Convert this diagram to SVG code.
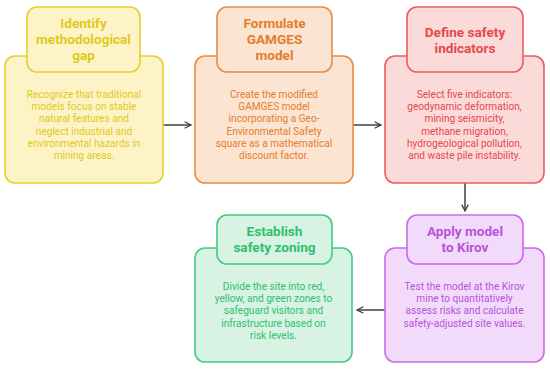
<svg xmlns="http://www.w3.org/2000/svg" width="550" height="369" viewBox="0 0 550 369">
<defs>
<style>
text{font-family:Roboto,"Liberation Sans",sans-serif;text-anchor:middle}
.t{font-size:13.6px;font-weight:bold}
.b{font-size:10.1px}
rect{stroke-width:1.6}
.y rect{fill:#fcf4c6;stroke:#e8cf2c}.y text{fill:#e3c81c}
.o rect{fill:#fbe4d2;stroke:#e98c42}.o text{fill:#e57d2e}
.r rect{fill:#fbdada;stroke:#e95e5e}.r text{fill:#e54a4a}
.g rect{fill:#d8f3e4;stroke:#40cc80}.g text{fill:#2fc06e}
.p rect{fill:#f2dbfa;stroke:#cc6ae8}.p text{fill:#b852da}
.c line{stroke:#404040;stroke-width:1.5}
</style>
<marker id="ah" viewBox="0 0 10 10" refX="9" refY="5" markerWidth="8" markerHeight="8" markerUnits="userSpaceOnUse" orient="auto"><path d="M1,1 L9,5 L1,9" fill="none" stroke="#404040" stroke-width="1.6"/></marker>
</defs>
<rect width="550" height="369" fill="#fff"/>
<g class="c">
<line x1="163" y1="125" x2="191" y2="125" marker-end="url(#ah)"/>
<line x1="353" y1="125" x2="381" y2="125" marker-end="url(#ah)"/>
<line x1="465" y1="183" x2="465" y2="211" marker-end="url(#ah)"/>
<line x1="385" y1="310" x2="357" y2="310" marker-end="url(#ah)"/>
</g>
<g id="n1" class="y">
<rect x="5" y="56" width="158" height="127" rx="10"/>
<rect x="27" y="7" width="113" height="65" rx="10"/>
<text class="t" x="83.5" y="28">Identify</text>
<text class="t" x="83.5" y="44">methodological</text>
<text class="t" x="83.5" y="60">gap</text>
<text class="b" x="84" y="98">Recognize that traditional</text>
<text class="b" x="84" y="110">models focus on stable</text>
<text class="b" x="84" y="122">natural features and</text>
<text class="b" x="84" y="135">neglect industrial and</text>
<text class="b" x="84" y="147">environmental hazards in</text>
<text class="b" x="84" y="159">mining areas.</text>
</g>
<g id="n2" class="o">
<rect x="195" y="56" width="158" height="127" rx="10"/>
<rect x="217" y="7" width="115" height="65" rx="10"/>
<text class="t" x="274.5" y="28">Formulate</text>
<text class="t" x="274.5" y="44">GAMGES</text>
<text class="t" x="274.5" y="60">model</text>
<text class="b" x="274" y="98">Create the modified</text>
<text class="b" x="274" y="110">GAMGES model</text>
<text class="b" x="274" y="122">incorporating a Geo-</text>
<text class="b" x="274" y="135">Environmental Safety</text>
<text class="b" x="274" y="147">square as a mathematical</text>
<text class="b" x="274" y="159">discount factor.</text>
</g>
<g id="n3" class="r">
<rect x="385" y="56" width="159" height="127" rx="10"/>
<rect x="407" y="7" width="116" height="65" rx="10"/>
<text class="t" x="465" y="37">Define safety</text>
<text class="t" x="465" y="53">indicators</text>
<text class="b" x="464.5" y="98">Select five indicators:</text>
<text class="b" x="464.5" y="110">geodynamic deformation,</text>
<text class="b" x="464.5" y="122">mining seismicity,</text>
<text class="b" x="464.5" y="135">methane migration,</text>
<text class="b" x="464.5" y="147">hydrogeological pollution,</text>
<text class="b" x="464.5" y="159">and waste pile instability.</text>
</g>
<g id="n4" class="g">
<rect x="195" y="248" width="157" height="114" rx="10"/>
<rect x="217" y="215" width="115" height="49" rx="10"/>
<text class="t" x="274.5" y="236">Establish</text>
<text class="t" x="274.5" y="252">safety zoning</text>
<text class="b" x="273.5" y="290">Divide the site into red,</text>
<text class="b" x="273.5" y="302">yellow, and green zones to</text>
<text class="b" x="273.5" y="314">safeguard visitors and</text>
<text class="b" x="273.5" y="327">infrastructure based on</text>
<text class="b" x="273.5" y="339">risk levels.</text>
</g>
<g id="n5" class="p">
<rect x="385" y="248" width="159" height="114" rx="10"/>
<rect x="407" y="215" width="116" height="49" rx="10"/>
<text class="t" x="465" y="236">Apply model</text>
<text class="t" x="465" y="252">to Kirov</text>
<text class="b" x="464.5" y="290">Test the model at the Kirov</text>
<text class="b" x="464.5" y="302">mine to quantitatively</text>
<text class="b" x="464.5" y="314">assess risks and calculate</text>
<text class="b" x="464.5" y="327">safety-adjusted site values.</text>
</g>
</svg>
